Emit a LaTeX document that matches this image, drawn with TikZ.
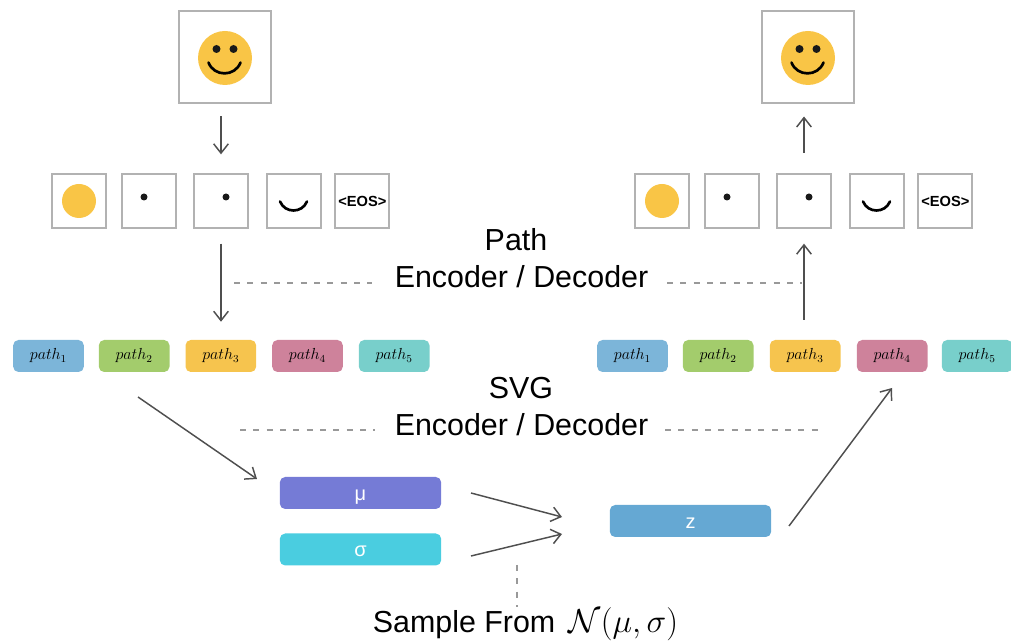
\documentclass[tikz,border=0pt]{standalone}
\usepackage{amsmath,amssymb}
\usepackage{fontspec}
\setmainfont{Liberation Sans}
\usetikzlibrary{arrows.meta,positioning}

\definecolor{sun}{HTML}{F9C546}
\definecolor{frame}{HTML}{B2B2B2}
\definecolor{ink}{HTML}{4F4F4F}
\definecolor{dashc}{HTML}{999999}
\definecolor{pathA}{HTML}{7CB5D9}
\definecolor{pathB}{HTML}{A3CC6C}
\definecolor{pathC}{HTML}{F6C44E}
\definecolor{pathD}{HTML}{CE829B}
\definecolor{pathE}{HTML}{78CFCB}
\definecolor{muc}{HTML}{757BD6}
\definecolor{sigmac}{HTML}{4ACDE0}
\definecolor{zc}{HTML}{65A8D3}

\tikzset{
  bigbox/.style={draw=frame,line width=1.5pt,minimum size=69pt,inner sep=0pt},
  tokbox/.style={draw=frame,line width=1.5pt,minimum size=40.5pt,inner sep=0pt,font=\bfseries\fontsize{11}{13}\selectfont},
  pathbox/.style={rounded corners=4pt,minimum width=53pt,minimum height=24pt,inner sep=0pt,font=\fontsize{11.5}{13}\selectfont},
  latent/.style={rounded corners=4pt,minimum width=121pt,minimum height=24pt,inner sep=0pt,text=white,text height=11pt,text depth=0pt,font=\fontsize{15}{17}\selectfont},
  title/.style={inner sep=0pt,font=\fontsize{22.8}{27}\selectfont},
  flow/.style={->,draw=ink,line width=1.1pt},
  guide/.style={draw=dashc,line width=.9pt,dash pattern=on 4.5pt off 5.5pt},
  mouth/.style={line width=2pt,line cap=round},
}

\begin{document}
\begin{tikzpicture}[x=.75pt,y=-.75pt,>={Straight Barb[length=7pt,width=11pt]}]
  \useasboundingbox (0,0) rectangle (1011,641);

  % left column
  \node[bigbox] (bigL) at (225,57.5) {};
  \node[tokbox] (tokL1) at (79,201) {};
  \node[tokbox] (tokL2) [right=10.5pt of tokL1] {};
  \node[tokbox] (tokL3) [right=12pt of tokL2] {};
  \node[tokbox] (tokL4) [right=12.5pt of tokL3] {};
  \node[tokbox] (tokL5) [right=9.5pt of tokL4] {<EOS>};
  \node[pathbox,fill=pathA] (pathL1) at (48.5,356) {$path_1$};
  \node[pathbox,fill=pathB] (pathL2) [right=10.85pt of pathL1] {$path_2$};
  \node[pathbox,fill=pathC] (pathL3) [right=11.6pt of pathL2] {$path_3$};
  \node[pathbox,fill=pathD] (pathL4) [right=11.6pt of pathL3] {$path_4$};
  \node[pathbox,fill=pathE] (pathL5) [right=11.6pt of pathL4] {$path_5$};

  % right column
  \node[bigbox] (bigR) at (808,57.5) {};
  \node[tokbox] (tokR1) at (662,201) {};
  \node[tokbox] (tokR2) [right=10.5pt of tokR1] {};
  \node[tokbox] (tokR3) [right=12pt of tokR2] {};
  \node[tokbox] (tokR4) [right=12.5pt of tokR3] {};
  \node[tokbox] (tokR5) [right=9.5pt of tokR4] {<EOS>};
  \node[pathbox,fill=pathA] (pathR1) at (632.5,356) {$path_1$};
  \node[pathbox,fill=pathB] (pathR2) [right=10.85pt of pathR1] {$path_2$};
  \node[pathbox,fill=pathC] (pathR3) [right=11.85pt of pathR2] {$path_3$};
  \node[pathbox,fill=pathD] (pathR4) [right=11.85pt of pathR3] {$path_4$};
  \node[pathbox,fill=pathE] (pathR5) [right=10.35pt of pathR4] {$path_5$};

  % latent boxes
  \node[latent,fill=muc] (mu) at (360.5,493) {μ};
  \node[latent,fill=sigmac] (sigma) at (360.5,549.5) {σ};
  \node[latent,fill=zc] (z) at (690.5,521) {z};

  % labels
  \node[title] (pathT) at (516,240) {Path};
  \node[title] (pathE) at (521.5,277) {Encoder / Decoder};
  \node[title] (svgT) at (521,388) {SVG};
  \node[title] (svgE) at (521.5,425) {Encoder / Decoder};
  \node[title] (sample) at (525.5,624) {Sample From\, {\fontsize{25.5}{27}\selectfont$\mathcal{N}(\mu,\sigma)$}};

  % faces
  \fill[sun] (225,58) circle (27);
  \fill[black!90] (216.5,49) circle (4);
  \fill[black!90] (233.5,49) circle (4);
  \draw[mouth] (208.5,62.5) .. controls (214,77) and (235,77) .. (240.5,62.5);
  \fill[sun] (808,58) circle (27);
  \fill[black!90] (799.5,49) circle (4);
  \fill[black!90] (816.5,49) circle (4);
  \draw[mouth] (791.5,62.5) .. controls (797,77) and (818,77) .. (823.5,62.5);

  \fill[sun] (79,201) circle (17);
  \fill[black!90] (144,197) circle (3.5);
  \fill[black!90] (226,197) circle (3.5);
  \draw[mouth] (280,201.5) .. controls (285,213.5) and (302,213.5) .. (307,201.5);
  \fill[sun] (662,201) circle (17);
  \fill[black!90] (727,197) circle (3.5);
  \fill[black!90] (809,197) circle (3.5);
  \draw[mouth] (863,201.5) .. controls (868,213.5) and (885,213.5) .. (890,201.5);

  % free ends
  \coordinate (encIn) at (138,397);
  \coordinate (encOut) at (257,479);
  \coordinate (muOut) at (471,493);
  \coordinate (sigmaOut) at (471,556);
  \coordinate (muIn) at (562,517);
  \coordinate (sigmaIn) at (562,534);
  \coordinate (zOut) at (789,526);
  \coordinate (decIn) at (892,388);
  \coordinate (sampleTop) at (517,565);
  \coordinate (sampleEnd) at (517,607);
  \coordinate (pathGuideA) at (234,283);
  \coordinate (pathGuideB) at (372,283);
  \coordinate (pathGuideC) at (667,283);
  \coordinate (pathGuideD) at (802,283);
  \coordinate (svgGuideA) at (240,430);
  \coordinate (svgGuideB) at (375,430);
  \coordinate (svgGuideC) at (665,430);
  \coordinate (svgGuideD) at (825,430);

  % arrows
  \path (tokL3.north |- bigL.south) edge[flow,shorten <=9pt,shorten >=14pt] (tokL3)
    (tokL3) edge[flow,shorten <=11pt,shorten >=13.5pt] (tokL3 |- pathL3.north)
    (tokR3 |- pathR3.north) edge[flow,shorten <=15pt,shorten >=11pt] (tokR3.south)
    (tokR3.north) edge[flow,shorten <=15pt,shorten >=9pt] (tokR3 |- bigR.south)
    (encIn) edge[flow] (encOut)
    (muOut) edge[flow] (muIn)
    (sigmaOut) edge[flow] (sigmaIn)
    (zOut) edge[flow] (decIn);

  % dashed guides
  \draw[guide] (pathGuideA) -- (pathGuideB);
  \draw[guide] (pathGuideC) -- (pathGuideD);
  \draw[guide] (svgGuideA) -- (svgGuideB);
  \draw[guide] (svgGuideC) -- (svgGuideD);
  \draw[guide] (sampleTop) -- (sampleEnd);
\end{tikzpicture}
\end{document}
